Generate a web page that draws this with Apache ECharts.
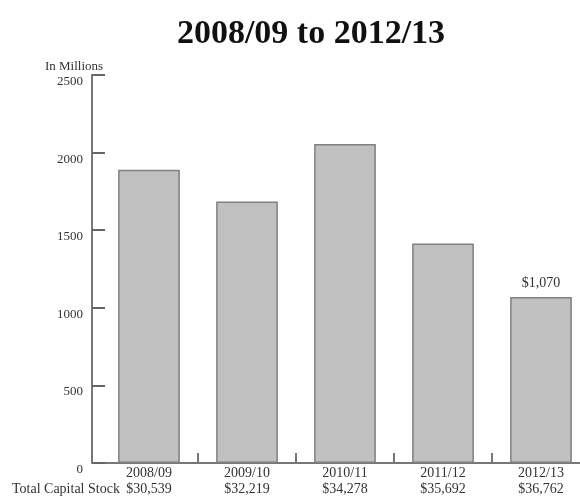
<!DOCTYPE html>
<html>
<head>
<meta charset="utf-8">
<script src="https://cdn.jsdelivr.net/npm/echarts@6/dist/echarts.min.js"></script>
<style>
  html, body { margin: 0; padding: 0; background: #fff; }
  #chart { width: 580px; height: 498px; }
</style>
</head>
<body>
<div id="chart"></div>
<script>
// Fiscal years, annual amounts (in millions) and total capital stock per year
const years = ['2008/09', '2009/10', '2010/11', '2011/12', '2012/13'];
const amounts = [1890, 1685, 2055, 1415, 1070];
const capitalStock = ['$30,539', '$32,219', '$34,278', '$35,692', '$36,762'];
const labelledYear = '2012/13';
const yTicks = [0, 500, 1000, 1500, 2000, 2500];

const serif = '"Liberation Serif", "DejaVu Serif", serif';
const chart = echarts.init(document.getElementById('chart'));

chart.setOption({
  animation: false,
  backgroundColor: '#ffffff',
  title: {
    text: '2008/09 to 2012/13',
    left: 306,
    top: 12,
    textAlign: 'center',
    textStyle: { fontFamily: serif, fontWeight: 'bold', fontSize: 34, color: '#111' }
  },
  graphic: [{
    type: 'text',
    left: 12,
    top: 482,
    style: { text: 'Total Capital Stock', font: '14px ' + serif, fill: '#333' }
  }],
  grid: { left: 100, top: 75, width: 490, height: 388, outerBoundsMode: 'none', containLabel: false },
  xAxis: {
    type: 'category',
    data: years,
    axisLine: { lineStyle: { color: '#777', width: 2 } },
    axisTick: {
      show: true, inside: true, length: 10,
      interval: (i) => i > 0,
      lineStyle: { color: '#777', width: 2 }
    },
    axisLabel: {
      margin: 2, interval: 0,
      fontFamily: serif, fontSize: 14, color: '#333', lineHeight: 16.5,
      formatter: (v, i) => v + '\n' + capitalStock[i]
    }
  },
  yAxis: {
    type: 'value',
    min: yTicks[0],
    max: yTicks[yTicks.length - 1],
    interval: yTicks[1] - yTicks[0],
    offset: 8,
    name: 'In Millions',
    nameLocation: 'end',
    nameGap: 8,
    nameTextStyle: {
      fontFamily: serif, fontSize: 13, color: '#333',
      align: 'center', verticalAlign: 'middle', padding: [0, 36, 0, 0]
    },
    splitLine: { show: false },
    axisLine: { show: true, lineStyle: { color: '#777', width: 2 } },
    axisTick: { show: true, inside: true, length: 13, lineStyle: { color: '#666', width: 2 } },
    axisLabel: {
      margin: 9, verticalAlign: 'top',
      fontFamily: serif, fontSize: 13, color: '#333',
      formatter: (v) => String(v)
    }
  },
  series: [{
    type: 'bar',
    data: amounts,
    barWidth: '63%',
    itemStyle: { color: '#c0c0c0', borderColor: '#808080', borderWidth: 1.5 },
    label: {
      show: true,
      position: 'top',
      distance: 7,
      fontFamily: serif, fontSize: 14, color: '#333',
      formatter: (p) => p.name === labelledYear ? '$' + p.value.toLocaleString('en-US') : ''
    }
  }]
});
</script>
</body>
</html>
